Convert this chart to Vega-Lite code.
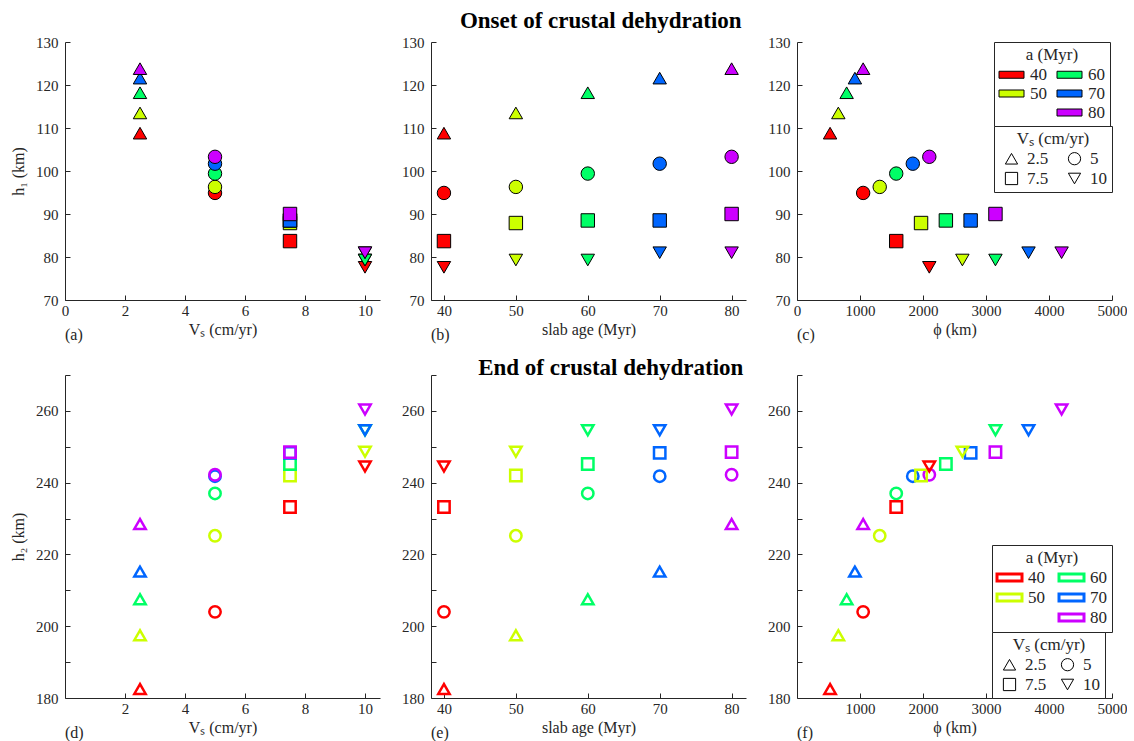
{
  "$schema": "https://vega.github.io/schema/vega-lite/v6.json",
  "background": "white",
  "padding": {"left": 10, "top": 10, "right": 0, "bottom": 0},
  "config": {
    "font": "Liberation Serif",
    "view": {"stroke": null},
    "axis": {
      "labelFont": "Liberation Serif", "labelFontSize": 15, "labelColor": "#262626",
      "titleFont": "Liberation Serif", "titleFontSize": 16, "titleFontWeight": "normal", "titleColor": "#262626",
      "domainColor": "#262626", "tickColor": "#262626", "tickSize": -5,
      "grid": false, "labelFlush": false, "labelOverlap": false
    },
    "axisX": {"labelPadding": 8, "titlePadding": 3},
    "axisY": {"labelPadding": 12, "titlePadding": 9},
    "title": {"font": "Liberation Serif"},
    "legend": {
      "labelFont": "Liberation Serif", "labelFontSize": 17, "labelColor": "#262626",
      "titleFont": "Liberation Serif", "titleFontSize": 17, "titleFontWeight": "normal", "titleColor": "#262626",
      "titleAnchor": "middle", "titlePadding": 2, "strokeColor": "#262626", "fillColor": "white", "padding": 5,
      "layout": {"top-right": {"direction": "vertical", "margin": -1, "offset": 0, "anchor": "end"}, "bottom-right": {"direction": "vertical", "margin": -1, "offset": 5, "anchor": "end"}}
    },
    "concat": {"spacing": 21}
  },
  "datasets": {
    "pts": [
      {"a": 40, "vs": 2.5, "phi": 525, "h1": 108.8, "h2": 182.5},
      {"a": 50, "vs": 2.5, "phi": 656, "h1": 113.5, "h2": 197.5},
      {"a": 60, "vs": 2.5, "phi": 788, "h1": 118.2, "h2": 207.5},
      {"a": 70, "vs": 2.5, "phi": 919, "h1": 121.6, "h2": 215.2},
      {"a": 80, "vs": 2.5, "phi": 1050, "h1": 123.8, "h2": 228.5},
      {"a": 40, "vs": 5, "phi": 1050, "h1": 94.9, "h2": 204.0},
      {"a": 50, "vs": 5, "phi": 1313, "h1": 96.3, "h2": 225.2},
      {"a": 60, "vs": 5, "phi": 1575, "h1": 99.4, "h2": 237.0},
      {"a": 70, "vs": 5, "phi": 1838, "h1": 101.7, "h2": 241.8},
      {"a": 80, "vs": 5, "phi": 2100, "h1": 103.3, "h2": 242.2},
      {"a": 40, "vs": 7.5, "phi": 1575, "h1": 83.7, "h2": 233.2},
      {"a": 50, "vs": 7.5, "phi": 1969, "h1": 87.9, "h2": 242.0},
      {"a": 60, "vs": 7.5, "phi": 2363, "h1": 88.5, "h2": 245.2},
      {"a": 70, "vs": 7.5, "phi": 2756, "h1": 88.5, "h2": 248.3},
      {"a": 80, "vs": 7.5, "phi": 3150, "h1": 90.0, "h2": 248.5},
      {"a": 40, "vs": 10, "phi": 2100, "h1": 77.6, "h2": 244.5},
      {"a": 50, "vs": 10, "phi": 2625, "h1": 79.3, "h2": 248.6},
      {"a": 60, "vs": 10, "phi": 3150, "h1": 79.3, "h2": 254.6},
      {"a": 70, "vs": 10, "phi": 3675, "h1": 81.0, "h2": 254.6},
      {"a": 80, "vs": 10, "phi": 4200, "h1": 81.0, "h2": 260.4}
    ]
  },
  "vconcat": [
    {
      "title": {"text": "Onset of crustal dehydration", "fontSize": 23, "fontWeight": "bold", "color": "black", "anchor": "middle", "dx": 32, "offset": 2},
      "resolve": {"scale": {"color": "independent", "shape": "independent"}, "legend": {"color": "independent", "shape": "independent"}},
      "hconcat": [
        {
          "width": 315, "height": 258,
          "title": {"text": "(a)", "orient": "bottom", "anchor": "start", "frame": "group", "offset": -10, "fontSize": 16, "fontWeight": "normal", "color": "#262626"},
          "data": {"name": "pts"},
          "mark": {"type": "point", "filled": true, "stroke": "black", "strokeWidth": 1, "opacity": 1, "size": 180},
          "encoding": {
            "x": {"field": "vs", "type": "quantitative", "title": "Vₛ (cm/yr)", "scale": {"domain": [0, 10.5], "nice": false, "zero": false}, "axis": {"values": [0, 2, 4, 6, 8, 10]}},
            "y": {"field": "h1", "type": "quantitative", "title": "h₁ (km)", "scale": {"domain": [70, 130], "nice": false, "zero": false}, "axis": {"values": [70, 80, 90, 100, 110, 120, 130]}},
            "color": {"field": "a", "type": "nominal", "scale": {"domain": [40, 50, 0, 60, 70, 80], "range": ["#FF0000", "#CCFF00", "transparent", "#00FF66", "#0066FF", "#CC00FF"]}, "legend": null},
            "shape": {"field": "vs", "type": "nominal", "scale": {"domain": [2.5, 7.5, 5, 10], "range": ["triangle-up", "square", "circle", "triangle-down"]}, "legend": null}
          }
        },
        {
          "width": 315, "height": 258,
          "title": {"text": "(b)", "orient": "bottom", "anchor": "start", "frame": "group", "offset": -10, "fontSize": 16, "fontWeight": "normal", "color": "#262626"},
          "data": {"name": "pts"},
          "mark": {"type": "point", "filled": true, "stroke": "black", "strokeWidth": 1, "opacity": 1, "size": 180},
          "encoding": {
            "x": {"field": "a", "type": "quantitative", "title": "slab age (Myr)", "scale": {"domain": [38.2, 82], "nice": false, "zero": false}, "axis": {"values": [40, 50, 60, 70, 80]}},
            "y": {"field": "h1", "type": "quantitative", "title": null, "scale": {"domain": [70, 130], "nice": false, "zero": false}, "axis": {"values": [70, 80, 90, 100, 110, 120, 130]}},
            "color": {"field": "a", "type": "nominal", "scale": {"domain": [40, 50, 0, 60, 70, 80], "range": ["#FF0000", "#CCFF00", "transparent", "#00FF66", "#0066FF", "#CC00FF"]}, "legend": null},
            "shape": {"field": "vs", "type": "nominal", "scale": {"domain": [2.5, 7.5, 5, 10], "range": ["triangle-up", "square", "circle", "triangle-down"]}, "legend": null}
          }
        },
        {
          "width": 315, "height": 258,
          "title": {"text": "(c)", "orient": "bottom", "anchor": "start", "frame": "group", "offset": -10, "fontSize": 16, "fontWeight": "normal", "color": "#262626"},
          "data": {"name": "pts"},
          "mark": {"type": "point", "filled": true, "stroke": "black", "strokeWidth": 1, "opacity": 1, "size": 180},
          "encoding": {
            "x": {"field": "phi", "type": "quantitative", "title": "ϕ (km)", "scale": {"domain": [0, 5000], "nice": false, "zero": false}, "axis": {"values": [0, 1000, 2000, 3000, 4000, 5000], "format": "d"}},
            "y": {"field": "h1", "type": "quantitative", "title": null, "scale": {"domain": [70, 130], "nice": false, "zero": false}, "axis": {"values": [70, 80, 90, 100, 110, 120, 130]}},
            "color": {"field": "a", "type": "nominal", "scale": {"domain": [40, 50, 0, 60, 70, 80], "range": ["#FF0000", "#CCFF00", "transparent", "#00FF66", "#0066FF", "#CC00FF"]},
              "legend": {"title": "a (Myr)", "orient": "top-right", "offset": 0, "columns": 2, "columnPadding": 8, "rowPadding": 1,
                "strokeColor": "#262626", "fillColor": "white",
                "symbolType": "M-2.5,-0.7H2.5V0.7H-2.5Z", "symbolSize": 100, "symbolOffset": 4, "symbolStrokeWidth": 1,
                "symbolStrokeColor": {"expr": "datum.value == 0 ? 'transparent' : 'black'"},
                "symbolOpacity": {"expr": "datum.value == 0 ? 0 : 1"},
                "labelExpr": "datum.value == 0 ? '' : datum.label", "labelOffset": 10}},
            "shape": {"field": "vs", "type": "nominal", "scale": {"domain": [2.5, 7.5, 5, 10], "range": ["triangle-up", "square", "circle", "triangle-down"]},
              "legend": {"title": "Vₛ (cm/yr)", "orient": "top-right", "offset": 0, "columns": 2, "columnPadding": 13, "rowPadding": 2,
                "strokeColor": "#262626", "fillColor": "white",
                "symbolSize": 150, "symbolOffset": 4, "symbolStrokeColor": "black", "symbolStrokeWidth": 1, "symbolFillColor": "transparent", "labelOffset": 7,
                "encode": {"symbols": {"fill": {"value": "transparent"}, "stroke": {"value": "black"}}}}}
          }
        }
      ]
    },
    {
      "title": {"text": "End of crustal dehydration", "fontSize": 23, "fontWeight": "bold", "color": "black", "anchor": "middle", "dx": 42, "offset": -12},
      "resolve": {"scale": {"color": "independent", "shape": "independent"}, "legend": {"color": "independent", "shape": "independent"}},
      "hconcat": [
        {
          "width": 315, "height": 323,
          "title": {"text": "(d)", "orient": "bottom", "anchor": "start", "frame": "group", "offset": -10, "fontSize": 16, "fontWeight": "normal", "color": "#262626"},
          "data": {"name": "pts"},
          "mark": {"type": "point", "filled": false, "strokeWidth": 2.5, "opacity": 1, "size": 130},
          "encoding": {
            "x": {"field": "vs", "type": "quantitative", "title": "Vₛ (cm/yr)", "scale": {"domain": [0, 10.5], "nice": false, "zero": false}, "axis": {"values": [2, 4, 6, 8, 10]}},
            "y": {"field": "h2", "type": "quantitative", "title": "h₂ (km)", "scale": {"domain": [180, 270], "nice": false, "zero": false}, "axis": {"values": [180, 190, 200, 210, 220, 230, 240, 250, 260, 270], "labelExpr": "datum.value % 20 == 0 && datum.value < 270 ? datum.label : ''"}},
            "color": {"field": "a", "type": "nominal", "scale": {"domain": [40, 50, 0, 60, 70, 80], "range": ["#FF0000", "#CCFF00", "transparent", "#00FF66", "#0066FF", "#CC00FF"]}, "legend": null},
            "shape": {"field": "vs", "type": "nominal", "scale": {"domain": [2.5, 7.5, 5, 10], "range": ["triangle-up", "square", "circle", "triangle-down"]}, "legend": null}
          }
        },
        {
          "width": 315, "height": 323,
          "title": {"text": "(e)", "orient": "bottom", "anchor": "start", "frame": "group", "offset": -10, "fontSize": 16, "fontWeight": "normal", "color": "#262626"},
          "data": {"name": "pts"},
          "mark": {"type": "point", "filled": false, "strokeWidth": 2.5, "opacity": 1, "size": 130},
          "encoding": {
            "x": {"field": "a", "type": "quantitative", "title": "slab age (Myr)", "scale": {"domain": [38.2, 82], "nice": false, "zero": false}, "axis": {"values": [40, 50, 60, 70, 80]}},
            "y": {"field": "h2", "type": "quantitative", "title": null, "scale": {"domain": [180, 270], "nice": false, "zero": false}, "axis": {"values": [180, 190, 200, 210, 220, 230, 240, 250, 260, 270], "labelExpr": "datum.value % 20 == 0 && datum.value < 270 ? datum.label : ''"}},
            "color": {"field": "a", "type": "nominal", "scale": {"domain": [40, 50, 0, 60, 70, 80], "range": ["#FF0000", "#CCFF00", "transparent", "#00FF66", "#0066FF", "#CC00FF"]}, "legend": null},
            "shape": {"field": "vs", "type": "nominal", "scale": {"domain": [2.5, 7.5, 5, 10], "range": ["triangle-up", "square", "circle", "triangle-down"]}, "legend": null}
          }
        },
        {
          "width": 315, "height": 323,
          "title": {"text": "(f)", "orient": "bottom", "anchor": "start", "frame": "group", "offset": -10, "fontSize": 16, "fontWeight": "normal", "color": "#262626"},
          "data": {"name": "pts"},
          "mark": {"type": "point", "filled": false, "strokeWidth": 2.5, "opacity": 1, "size": 130},
          "encoding": {
            "x": {"field": "phi", "type": "quantitative", "title": "ϕ (km)", "scale": {"domain": [0, 5000], "nice": false, "zero": false}, "axis": {"values": [1000, 2000, 3000, 4000, 5000], "format": "d"}},
            "y": {"field": "h2", "type": "quantitative", "title": null, "scale": {"domain": [180, 270], "nice": false, "zero": false}, "axis": {"values": [180, 190, 200, 210, 220, 230, 240, 250, 260, 270], "labelExpr": "datum.value % 20 == 0 && datum.value < 270 ? datum.label : ''"}},
            "color": {"field": "a", "type": "nominal", "scale": {"domain": [40, 50, 0, 60, 70, 80], "range": ["#FF0000", "#CCFF00", "transparent", "#00FF66", "#0066FF", "#CC00FF"]},
              "legend": {"title": "a (Myr)", "orient": "bottom-right", "offset": 0, "columns": 2, "columnPadding": 8, "rowPadding": 1,
                "strokeColor": "#262626", "fillColor": "white",
                "symbolType": "M-2.5,-0.7H2.5V0.7H-2.5Z", "symbolSize": 100, "symbolOffset": 4, "symbolStrokeWidth": 3, "symbolFillColor": "transparent",
                "labelExpr": "datum.value == 0 ? '' : datum.label", "labelOffset": 10,
                "encode": {"symbols": {"fill": {"value": "transparent"}}}}},
            "shape": {"field": "vs", "type": "nominal", "scale": {"domain": [2.5, 7.5, 5, 10], "range": ["triangle-up", "square", "circle", "triangle-down"]},
              "legend": {"title": "Vₛ (cm/yr)", "orient": "bottom-right", "offset": 0, "columns": 2, "columnPadding": 8, "rowPadding": 2,
                "strokeColor": "#262626", "fillColor": "white",
                "symbolSize": 150, "symbolOffset": 4, "symbolStrokeColor": "black", "symbolStrokeWidth": 1, "symbolFillColor": "transparent", "labelOffset": 7,
                "encode": {"symbols": {"fill": {"value": "transparent"}, "stroke": {"value": "black"}, "strokeWidth": {"value": 1}}}}}
          }
        }
      ]
    }
  ],
  "spacing": 14
}
